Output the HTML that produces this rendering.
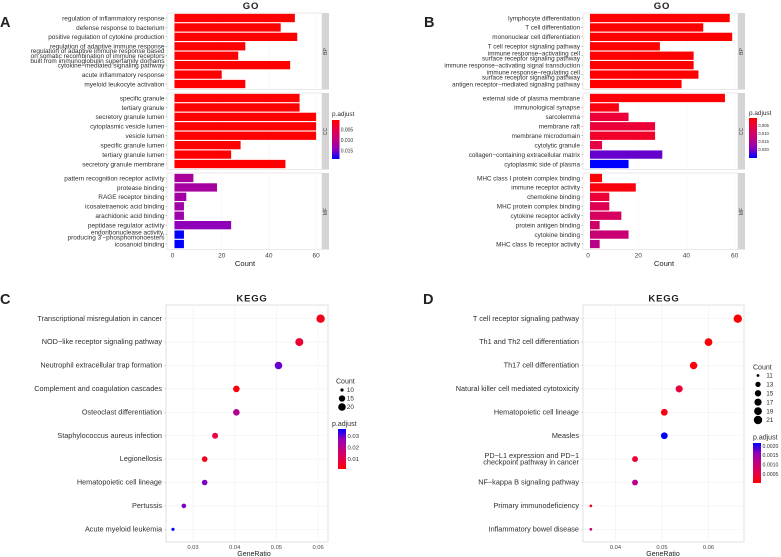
<!DOCTYPE html>
<html lang="en">
<head>
<meta charset="utf-8">
<title>GO and KEGG enrichment</title>
<style>
html,body{margin:0;padding:0;background:#fff;}
body{width:781px;height:557px;overflow:hidden;}
svg{display:block;filter:blur(0.35px);}
text{font-family:"Liberation Sans",sans-serif;}
</style>
</head>
<body>
<svg id="figure" width="781" height="557" viewBox="0 0 781 557" xmlns="http://www.w3.org/2000/svg">
  <defs>
    <linearGradient id="redTopGradient" x1="0" y1="0" x2="0" y2="1">
      <stop offset="0" stop-color="#ff0000"/><stop offset="0.25" stop-color="#e4004a"/><stop offset="0.5" stop-color="#c2007f"/><stop offset="0.75" stop-color="#9000b8"/><stop offset="1" stop-color="#0000ff"/>
    </linearGradient>
    <linearGradient id="blueTopGradient" x1="0" y1="1" x2="0" y2="0">
      <stop offset="0" stop-color="#ff0000"/><stop offset="0.25" stop-color="#e4004a"/><stop offset="0.5" stop-color="#c2007f"/><stop offset="0.75" stop-color="#9000b8"/><stop offset="1" stop-color="#0000ff"/>
    </linearGradient>
  </defs>
  <text x="0" y="27" font-size="14.5" font-weight="bold" fill="#222">A</text>
  <text x="424" y="27" font-size="14.5" font-weight="bold" fill="#222">B</text>
  <text x="0" y="304" font-size="14.5" font-weight="bold" fill="#222">C</text>
  <text x="423" y="304" font-size="14.5" font-weight="bold" fill="#222">D</text>
  <text x="251" y="9" font-size="9.5" font-weight="bold" text-anchor="middle" letter-spacing="0.8" fill="#222">GO</text>
  <text x="662" y="9" font-size="9.5" font-weight="bold" text-anchor="middle" letter-spacing="0.8" fill="#222">GO</text>
  <text x="252" y="301.5" font-size="9.5" font-weight="bold" text-anchor="middle" letter-spacing="0.8" fill="#222">KEGG</text>
  <text x="664" y="301.5" font-size="9.5" font-weight="bold" text-anchor="middle" letter-spacing="0.8" fill="#222">KEGG</text>
  <text x="245" y="266" font-size="7.6" text-anchor="middle" fill="#222">Count</text>
  <text x="664" y="266" font-size="7.6" text-anchor="middle" fill="#222">Count</text>
  <text x="254" y="556" font-size="7" text-anchor="middle" fill="#222">GeneRatio</text>
  <text x="663" y="556" font-size="7" text-anchor="middle" fill="#222">GeneRatio</text>
  <g id="layer"></g>
</svg>
<script>
// ---------- Panel A data ----------
const goFacets = ['BP', 'CC', 'MF'];
const aTerms = [
  'regulation of inflammatory response','defense response to bacterium','positive regulation of cytokine production','regulation of adaptive immune response','regulation of adaptive immune response based\non somatic recombination of immune receptors\nbuilt from immunoglobulin superfamily domains','cytokine\u2212mediated signaling pathway','acute inflammatory response','myeloid leukocyte activation',
  'specific granule','tertiary granule','secretory granule lumen','cytoplasmic vesicle lumen','vesicle lumen','specific granule lumen','tertiary granule lumen','secretory granule membrane',
  'pattern recognition receptor activity','protease binding','RAGE receptor binding','icosatetraenoic acid binding','arachidonic acid binding','peptidase regulator activity','endoribonuclease activity,\nproducing 3\'\u2212phosphomonoesters','icosanoid binding'
];
const aCounts = [51,45,52,30,27,49,20,30, 53,53,60,60,60,28,24,47, 8,18,5,4,4,24,4,4];
const aPadjust = [0.0003,0.0003,0.0003,0.0003,0.0003,0.0003,0.0003,0.0003, 0.0003,0.0003,0.0003,0.0003,0.0003,0.0003,0.0003,0.0003, 0.0118,0.0122,0.0125,0.0128,0.013,0.0142,0.0188,0.0188];
const aLegendTicks = [0.005,0.010,0.015];
const aLegendLabels = ['0.005','0.010','0.015'];
// ---------- Panel B data ----------
const bTerms = [
  'lymphocyte differentiation','T cell differentiation','mononuclear cell differentiation','T cell receptor signaling pathway','immune response\u2212activating cell\nsurface receptor signaling pathway','immune response\u2212activating signal transduction','immune response\u2212regulating cell\nsurface receptor signaling pathway','antigen receptor\u2212mediated signaling pathway',
  'external side of plasma membrane','immunological synapse','sarcolemma','membrane raft','membrane microdomain','cytolytic granule','collagen\u2212containing extracellular matrix','cytoplasmic side of plasma',
  'MHC class I protein complex binding','immune receptor activity','chemokine binding','MHC protein complex binding','cytokine receptor activity','protein antigen binding','cytokine binding','MHC class Ib receptor activity'
];
const bCounts = [58,47,59,29,43,43,45,38, 56,12,16,27,27,5,30,16, 5,19,8,8,13,4,16,4];
const bPadjust = [0.0002,0.0002,0.0002,0.0002,0.0002,0.0002,0.0002,0.0002, 0.0005,0.0015,0.005,0.005,0.0035,0.006,0.021,0.0255, 0.0005,0.0013,0.005,0.0075,0.009,0.01,0.0115,0.014];
const bLegendTicks = [0.005,0.010,0.015,0.020];
const bLegendLabels = ['0.005','0.010','0.015','0.020'];
// ---------- Panel C data ----------
const cTerms = ['Transcriptional misregulation in cancer','NOD\u2212like receptor signaling pathway','Neutrophil extracellular trap formation','Complement and coagulation cascades','Osteoclast differentiation','Staphylococcus aureus infection','Legionellosis','Hematopoietic cell lineage','Pertussis','Acute myeloid leukemia'];
const cRatios = [0.0606,0.0555,0.0505,0.0404,0.0404,0.0353,0.0328,0.0328,0.0278,0.0252];
const cCounts = [24,22,20,16,16,14,13,13,11,10];
const cPadjust = [0.0045,0.0075,0.030,0.0025,0.021,0.0085,0.0045,0.0285,0.029,0.036];
const cXTicks = [0.03,0.04,0.05,0.06];
const cXLabels = ['0.03','0.04','0.05','0.06'];
const cLegendCounts = [10,15,20];
const cLegendTicks = [0.03,0.02,0.01];
const cLegendLabels = ['0.03','0.02','0.01'];
// ---------- Panel D data ----------
const dTerms = ['T cell receptor signaling pathway','Th1 and Th2 cell differentiation','Th17 cell differentiation','Natural killer cell mediated cytotoxicity','Hematopoietic cell lineage','Measles','PD\u2212L1 expression and PD\u22121\ncheckpoint pathway in cancer','NF\u2212kappa B signaling pathway','Primary immunodeficiency','Inflammatory bowel disease'];
const dRatios = [0.0663,0.0600,0.0568,0.0537,0.0505,0.0505,0.0442,0.0442,0.0347,0.0347];
const dCounts = [21,19,18,17,16,16,14,14,11,11];
const dPadjust = [0.00005,0.0001,0.0001,0.00045,0.00015,0.00216,0.0004,0.0012,0.0003,0.0009];
const dXTicks = [0.04,0.05,0.06];
const dXLabels = ['0.04','0.05','0.06'];
const dLegendCounts = [11,13,15,17,19,21];
const dLegendTicks = [0.0020,0.0015,0.0010,0.0005];
const dLegendLabels = ['0.0020','0.0015','0.0010','0.0005'];
const goXTicks = [0,20,40,60];

const NS = 'http://www.w3.org/2000/svg';
const layer = document.getElementById('layer');
const stops = [[255,0,0],[228,0,74],[194,0,127],[144,0,184],[0,0,255]];
function colorAt(t){
  t = Math.max(0, Math.min(1, t)) * 4;
  const i = Math.min(3, Math.floor(t)), f = t - i;
  const c = stops[i].map((v, k) => Math.round(v + (stops[i + 1][k] - v) * f));
  return 'rgb(' + c.join(',') + ')';
}
function make(tag, attrs, text){
  const el = document.createElementNS(NS, tag);
  for (const k in attrs) el.setAttribute(k, attrs[k]);
  if (text !== undefined) el.textContent = text;
  layer.appendChild(el);
  return el;
}
function termLabel(term, x, y, size, leading, name){
  const lines = term.split('\n');
  const el = make('text', {x: x, y: 0, 'font-size': size, 'text-anchor': 'end', fill: '#2e2e2e'});
  
  
  lines.forEach((line, i) => {
    const ts = document.createElementNS(NS, 'tspan');
    ts.setAttribute('x', x);
    ts.setAttribute('y', y + size * 0.36 + (i - (lines.length - 1) / 2) * leading);
    ts.textContent = line;
    el.appendChild(ts);
  });
}
function legendBar(x, y, w, h, grad, name){
  const el = make('rect', {x: x, y: y, width: w, height: h, fill: 'url(#' + grad + ')'});
  
  
}
function legendText(x, y, str, size, name, fill){
  const el = make('text', {x: x, y: y, 'font-size': size, fill: fill || '#2e2e2e'}, str);
  
  
}

function drawGo(o){
  const barTop = o.panelLeft;
  const xScale = v => o.x0 + v * o.pxPerCount;
  const facetTop = f => 13 + f * 80;
  const yScale = i => facetTop(Math.floor(i / 8)) + 5 + (i % 8) * 9.43;
  const pNorm = p => (p - o.pMin) / (o.pMax - o.pMin);
  goFacets.forEach((facet, f) => {
    const panel = make('rect', {x: barTop, y: facetTop(f), width: o.panelW, height: 76.5, fill: '#fff', stroke: '#e4e4e4', 'stroke-width': 0.8});
    
    
    goXTicks.forEach(t => {
      const g = make('line', {x1: xScale(t), x2: xScale(t), y1: facetTop(f), y2: facetTop(f) + 76.5, stroke: '#f6f6f6', 'stroke-width': 0.7});
      
      
    });
    const strip = make('rect', {x: barTop + o.panelW, y: facetTop(f), width: 7, height: 76.5, fill: '#d4d4d4'});
    
    
    const sx = barTop + o.panelW + 3.5, sy = facetTop(f) + 38.5;
    const st = make('text', {x: sx, y: sy + 1.7, 'font-size': 5, 'text-anchor': 'middle', fill: '#444', transform: 'rotate(-90 ' + sx + ' ' + (sy) + ')'}, facet);
    
    
  });
  o.counts.forEach((c, i) => {
    const y = yScale(i);
    const bar = make('rect', {x: xScale(0), y: y - 4.15, width: xScale(c) - xScale(0), height: 8.3, fill: colorAt(pNorm(o.padj[i]))});
    
    
    termLabel(o.terms[i], o.labelX, y, o.fontSize, 5, o.id + '-term-label-' + i);
    const tick = make('line', {x1: barTop - 1.5, x2: barTop, y1: y, y2: y, stroke: '#888', 'stroke-width': 0.5});
    
    
  });
  goXTicks.forEach(t => {
    const el = make('text', {x: xScale(t) - (t === 0 ? 2 : 0), y: 257.5, 'font-size': 6.5, 'text-anchor': 'middle', fill: '#3c3c3c'}, String(t));
    
    
  });
  legendText(o.legX, o.legTitleY, 'p.adjust', 6.4, o.id + '-legend-title');
  legendBar(o.legX, o.legY, o.legW, o.legH, 'redTopGradient', o.id + '-colorbar');
  o.legTicks.forEach((p, i) => {
    legendText(o.legX + o.legW + 1.2, o.legY + pNorm(p) * o.legH + 1.6, o.legLabels[i], o.legFont, o.id + '-colorbar-label');
  });
}

function drawDots(o){
  const xScale = v => o.xAt + (v - o.xRef) * o.pxPerUnit;
  const yScale = i => 318.7 + i * 23.4;
  const rScale = c => o.rMin + (o.rMax - o.rMin) * Math.sqrt((c - o.cMin) / (o.cMax - o.cMin));
  const pNorm = p => (p - o.pMin) / (o.pMax - o.pMin);
  const panel = make('rect', {x: o.left, y: 305, width: o.right - o.left, height: 237, fill: '#fff', stroke: '#e0e0e0', 'stroke-width': 1});
  
  
  o.xTicks.forEach(t => {
    const g = make('line', {x1: xScale(t), x2: xScale(t), y1: 305, y2: 542, stroke: '#f3f3f3', 'stroke-width': 0.7});
    
    
  });
  o.terms.forEach((term, i) => {
    const y = yScale(i);
    const g = make('line', {x1: o.left, x2: o.right, y1: y, y2: y, stroke: '#f3f3f3', 'stroke-width': 0.7});
    
    
    termLabel(term, o.labelX, y - 0.5, o.fontSize, 6.4, o.id + '-term-label-' + i);
    const tick = make('line', {x1: o.left - 1.5, x2: o.left, y1: y, y2: y, stroke: '#aaa', 'stroke-width': 0.5});
    
    
  });
  o.ratios.forEach((r, i) => {
    const dot = make('circle', {cx: xScale(r), cy: yScale(i), r: rScale(o.counts[i]), fill: colorAt(pNorm(o.padj[i]))});
    
    
  });
  o.xTicks.forEach((t, i) => {
    const el = make('text', {x: xScale(t), y: 549, 'font-size': 5.8, 'text-anchor': 'middle', fill: '#4a4a4a'}, o.xLabels[i]);
    
    
  });
  legendText(o.countX, o.countTitleY, 'Count', 7, o.id + '-size-legend-title');
  o.legCounts.forEach((c, i) => {
    const y = o.countY + i * o.countStep;
    const dot = make('circle', {cx: o.countDotX, cy: y, r: rScale(c), fill: '#000'});
    
    
    legendText(o.countDotX + o.countLabelGap, y + 2.2, String(c), 6.4, o.id + '-size-legend-label');
  });
  legendText(o.padjX, o.padjTitleY, 'p.adjust', 7, o.id + '-color-legend-title');
  legendBar(o.barX, o.barY, 8, o.barH, 'blueTopGradient', o.id + '-colorbar');
  o.legTicks.forEach((p, i) => {
    const y = o.barY + (1 - pNorm(p)) * o.barH;
    legendText(o.barX + 9.5, y + 1.8, o.legLabels[i], o.legFont, o.id + '-colorbar-label');
  });
}

drawGo({id: 'go-a', terms: aTerms, counts: aCounts, padj: aPadjust, panelLeft: 167, panelW: 155, x0: 174.5, pxPerCount: 2.36, labelX: 164.5, fontSize: 6.45, pMin: 0.00024, pMax: 0.0188, legX: 332, legTitleY: 116, legY: 120, legW: 7.5, legH: 39, legTicks: aLegendTicks, legLabels: aLegendLabels, legFont: 5});
drawGo({id: 'go-b', terms: bTerms, counts: bCounts, padj: bPadjust, panelLeft: 583, panelW: 155, x0: 590, pxPerCount: 2.41, labelX: 580, fontSize: 6.35, pMin: 0.0002, pMax: 0.0255, legX: 749, legTitleY: 115, legY: 118, legW: 8, legH: 40, legTicks: bLegendTicks, legLabels: bLegendLabels, legFont: 4.3});
drawDots({id: 'kegg-c', terms: cTerms, ratios: cRatios, counts: cCounts, padj: cPadjust, xTicks: cXTicks, xLabels: cXLabels, left: 166, right: 328, xAt: 193, xRef: 0.03, pxPerUnit: 4170, labelX: 162, fontSize: 7.3, rMin: 1.6, rMax: 4.2, cMin: 10, cMax: 24, pMin: 0.0013, pMax: 0.0361, countX: 336, countTitleY: 383.5, countDotX: 342, countY: 390, countStep: 8.5, countLabelGap: 4.8, legCounts: cLegendCounts, padjX: 332, padjTitleY: 426, barX: 338, barY: 429, barH: 40, legTicks: cLegendTicks, legLabels: cLegendLabels, legFont: 5.9});
drawDots({id: 'kegg-d', terms: dTerms, ratios: dRatios, counts: dCounts, padj: dPadjust, xTicks: dXTicks, xLabels: dXLabels, left: 583, right: 744, xAt: 615.5, xRef: 0.04, pxPerUnit: 4650, labelX: 579, fontSize: 7.3, rMin: 1.4, rMax: 4.2, cMin: 11, cMax: 21, pMin: 0.00002, pMax: 0.00216, countX: 753, countTitleY: 369.5, countDotX: 758, countY: 375.5, countStep: 8.9, countLabelGap: 8.2, legCounts: dLegendCounts, padjX: 753, padjTitleY: 439.5, barX: 753, barY: 443, barH: 40, legTicks: dLegendTicks, legLabels: dLegendLabels, legFont: 5.2});
</script>
</body>
</html>
